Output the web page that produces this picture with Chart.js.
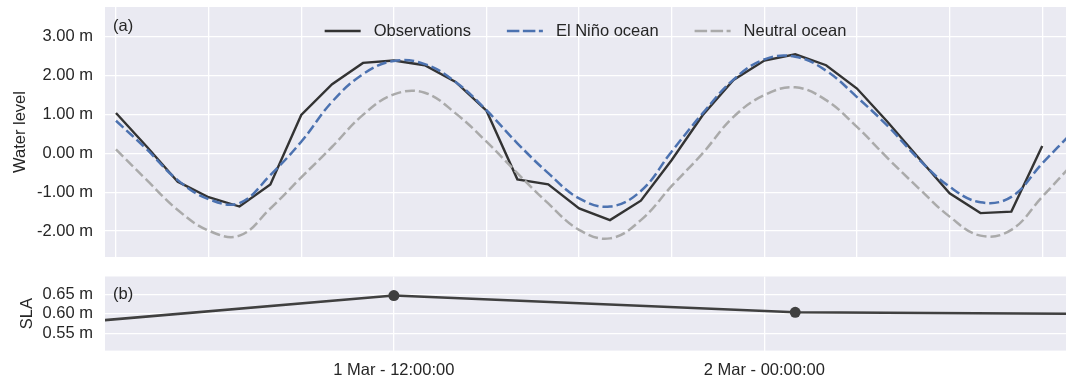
<!DOCTYPE html>
<html>
<head>
<meta charset="utf-8">
<script src="https://cdn.jsdelivr.net/npm/chart.js@4.4.1/dist/chart.umd.min.js"></script>
<style>
  html, body { margin: 0; padding: 0; background: #fff; }
  #wrap { position: relative; width: 1066px; height: 378px; overflow: hidden; }
  #levelChart { position: absolute; left: 0; top: 0; width: 1066px; height: 257px; }
  #slaChart { position: absolute; left: 0; top: 270px; width: 1066px; height: 108px; }
</style>
</head>
<body>
<div id="wrap">
  <canvas id="levelChart" width="1066" height="257"></canvas>
  <canvas id="slaChart" width="1066" height="108"></canvas>
</div>
<script>
// hours counted from 1 Mar 00:00
const obsHours = [3, 4, 5, 6, 7, 8, 9, 10, 11, 12, 13, 14, 15, 16, 17, 18, 19, 20, 21, 22, 23, 24, 25, 26, 27, 28, 29, 30, 31, 32, 33];
const observations = [1.04, 0.17, -0.73, -1.13, -1.37, -0.80, 0.99, 1.78, 2.33, 2.39, 2.27, 1.84, 1.10, -0.67, -0.80, -1.42, -1.72, -1.22, -0.17, 0.98, 1.89, 2.39, 2.55, 2.27, 1.67, 0.80, -0.12, -1.03, -1.54, -1.50, 0.19];

const modelHours = [3, 4, 5, 6, 7, 8, 9, 10, 11, 12, 13, 14, 15, 16, 17, 18, 19, 20, 21, 22, 23, 24, 25, 26, 27, 28, 29, 30, 31, 32, 33, 34];
const elNino = [0.84, 0.10, -0.69, -1.18, -1.28, -0.56, 0.30, 1.33, 2.04, 2.38, 2.30, 1.84, 1.11, 0.26, -0.51, -1.16, -1.37, -0.97, 0.05, 1.03, 1.90, 2.42, 2.49, 2.13, 1.45, 0.70, -0.15, -0.86, -1.26, -1.12, -0.26, 0.56];
const neutral = [0.10, -0.69, -1.46, -1.99, -2.12, -1.42, -0.62, 0.17, 0.99, 1.52, 1.56, 1.03, 0.30, -0.51, -1.29, -1.97, -2.19, -1.72, -0.84, 0.00, 0.94, 1.50, 1.70, 1.37, 0.68, -0.13, -0.90, -1.63, -2.12, -1.97, -1.12, -0.26];

const slaHours = [0, 12, 25, 37];
const sla = [0.566, 0.647, 0.604, 0.5985];

const gridHours = [3, 6, 9, 12, 15, 18, 21, 24, 27, 30, 33];
const tickHours = [12, 24];
const tickLabels = ['1 Mar - 12:00:00', '2 Mar - 00:00:00'];
const levelTicks = [-2, -1, 0, 1, 2, 3];
const slaTicks = [0.55, 0.60, 0.65];

const FONT = '"Liberation Sans", Arial, Helvetica, sans-serif';
const TXT = '#262626';
Chart.defaults.font.family = FONT;
Chart.defaults.font.size = 16.5;
Chart.defaults.color = TXT;

function pts(xs, ys) {
  return xs.map(function (x, i) { return { x: x, y: ys[i] }; });
}

let legendItems = [
  { label: 'Observations', color: '#333333', dash: [] },
  { label: 'El Niño ocean', color: '#4c72b0', dash: [12.5, 3.5] },
  { label: 'Neutral ocean', color: '#aaaaaa', dash: [12.5, 3.5] }
];

// background, panel tag, rotated y title and (optionally) the legend
let panelPlugin = {
  id: 'panel',
  beforeDraw: function (chart) {
    let a = chart.chartArea, ctx = chart.ctx;
    ctx.save();
    ctx.fillStyle = '#eaeaf2';
    ctx.fillRect(a.left, a.top, a.right - a.left, a.bottom - a.top);
    ctx.restore();
  },
  afterDraw: function (chart, args, opts) {
    let a = chart.chartArea, ctx = chart.ctx;
    ctx.save();
    ctx.font = '16.5px ' + FONT;
    ctx.fillStyle = TXT;
    ctx.textBaseline = 'middle';
    ctx.textAlign = 'left';
    ctx.fillText(opts.tag, a.left + 8, a.top + opts.tagDy);

    ctx.save();
    ctx.translate(opts.titleX, (a.top + a.bottom) / 2);
    ctx.rotate(-Math.PI / 2);
    ctx.textAlign = 'center';
    ctx.fillText(opts.title, 0, 0);
    ctx.restore();

    if (opts.legend) {
      let sample = 36, gap = 13, spacing = 36;
      let widths = legendItems.map(function (it) { return ctx.measureText(it.label).width; });
      let total = widths.reduce(function (s, w) { return s + w + sample + gap; }, 0) + spacing * (legendItems.length - 1);
      let x = (a.left + a.right) / 2 - total / 2;
      let y = a.top + opts.legendDy;
      legendItems.forEach(function (it, i) {
        ctx.beginPath();
        ctx.setLineDash(it.dash);
        ctx.strokeStyle = it.color;
        ctx.lineWidth = 2.5;
        ctx.moveTo(x, y);
        ctx.lineTo(x + sample, y);
        ctx.stroke();
        ctx.setLineDash([]);
        ctx.fillStyle = TXT;
        ctx.fillText(it.label, x + sample + gap, y);
        x += sample + gap + widths[i] + spacing;
      });
    }
    ctx.restore();
  }
};

let gridStyle = { color: '#ffffff', lineWidth: 1.3, drawTicks: false };
let noPad = function (s) { s.paddingTop = 0; s.paddingBottom = 0; s.paddingLeft = 0; s.paddingRight = 0; };

new Chart(document.getElementById('levelChart'), {
  type: 'line',
  data: {
    datasets: [
      { label: 'Neutral ocean', data: pts(modelHours, neutral), borderColor: '#aaaaaa', borderWidth: 2.5,
        borderDash: [10, 4], pointRadius: 0, tension: 0.4 },
      { label: 'El Niño ocean', data: pts(modelHours, elNino), borderColor: '#4c72b0', borderWidth: 2.5,
        borderDash: [10, 4], pointRadius: 0, tension: 0.4 },
      { label: 'Observations', data: pts(obsHours, observations), borderColor: '#333333', borderWidth: 2.4,
        pointRadius: 0, tension: 0 }
    ]
  },
  options: {
    responsive: false,
    animation: false,
    events: [],
    layout: { autoPadding: false, padding: { top: 7, right: 0, bottom: 0, left: 0 } },
    plugins: {
      legend: { display: false },
      tooltip: { enabled: false },
      panel: { tag: '(a)', tagDy: 19, title: 'Water level', titleX: 20, legend: true, legendDy: 24 }
    },
    scales: {
      x: {
        type: 'linear', min: 2.644, max: 33.77,
        afterBuildTicks: function (s) { s.ticks = gridHours.map(function (v) { return { value: v }; }); },
        afterFit: function (s) { s.height = 0; noPad(s); },
        ticks: { display: false },
        grid: gridStyle,
        border: { display: false }
      },
      y: {
        min: -2.67, max: 3.77,
        afterBuildTicks: function (s) { s.ticks = levelTicks.map(function (v) { return { value: v }; }); },
        afterFit: function (s) { s.width = 105; noPad(s); },
        ticks: { padding: 12, callback: function (v) { return v.toFixed(2) + ' m'; } },
        grid: gridStyle,
        border: { display: false }
      }
    }
  },
  plugins: [panelPlugin]
});

new Chart(document.getElementById('slaChart'), {
  type: 'line',
  data: {
    datasets: [
      { label: 'SLA', data: pts(slaHours, sla), borderColor: '#404040', backgroundColor: '#404040',
        borderWidth: 2.5, pointRadius: 5.5, pointBorderWidth: 0, tension: 0 }
    ]
  },
  options: {
    responsive: false,
    animation: false,
    events: [],
    layout: { autoPadding: false, padding: { top: 6.5, right: 0, bottom: 0, left: 0 } },
    plugins: {
      legend: { display: false },
      tooltip: { enabled: false },
      panel: { tag: '(b)', tagDy: 18, title: 'SLA', titleX: 27, legend: false }
    },
    scales: {
      x: {
        type: 'linear', min: 2.644, max: 33.77,
        afterBuildTicks: function (s) { s.ticks = tickHours.map(function (v) { return { value: v }; }); },
        afterFit: function (s) { s.height = 27.4; noPad(s); },
        ticks: {
          padding: 10, maxRotation: 0, autoSkip: false,
          callback: function (v) { let i = tickHours.indexOf(v); return i >= 0 ? tickLabels[i] : ''; }
        },
        grid: gridStyle,
        border: { display: false }
      },
      y: {
        min: 0.5055, max: 0.696,
        afterBuildTicks: function (s) { s.ticks = slaTicks.map(function (v) { return { value: v }; }); },
        afterFit: function (s) { s.width = 105; noPad(s); },
        ticks: { padding: 12, callback: function (v) { return v.toFixed(2) + ' m'; } },
        grid: gridStyle,
        border: { display: false }
      }
    }
  },
  plugins: [panelPlugin]
});
</script>
</body>
</html>
